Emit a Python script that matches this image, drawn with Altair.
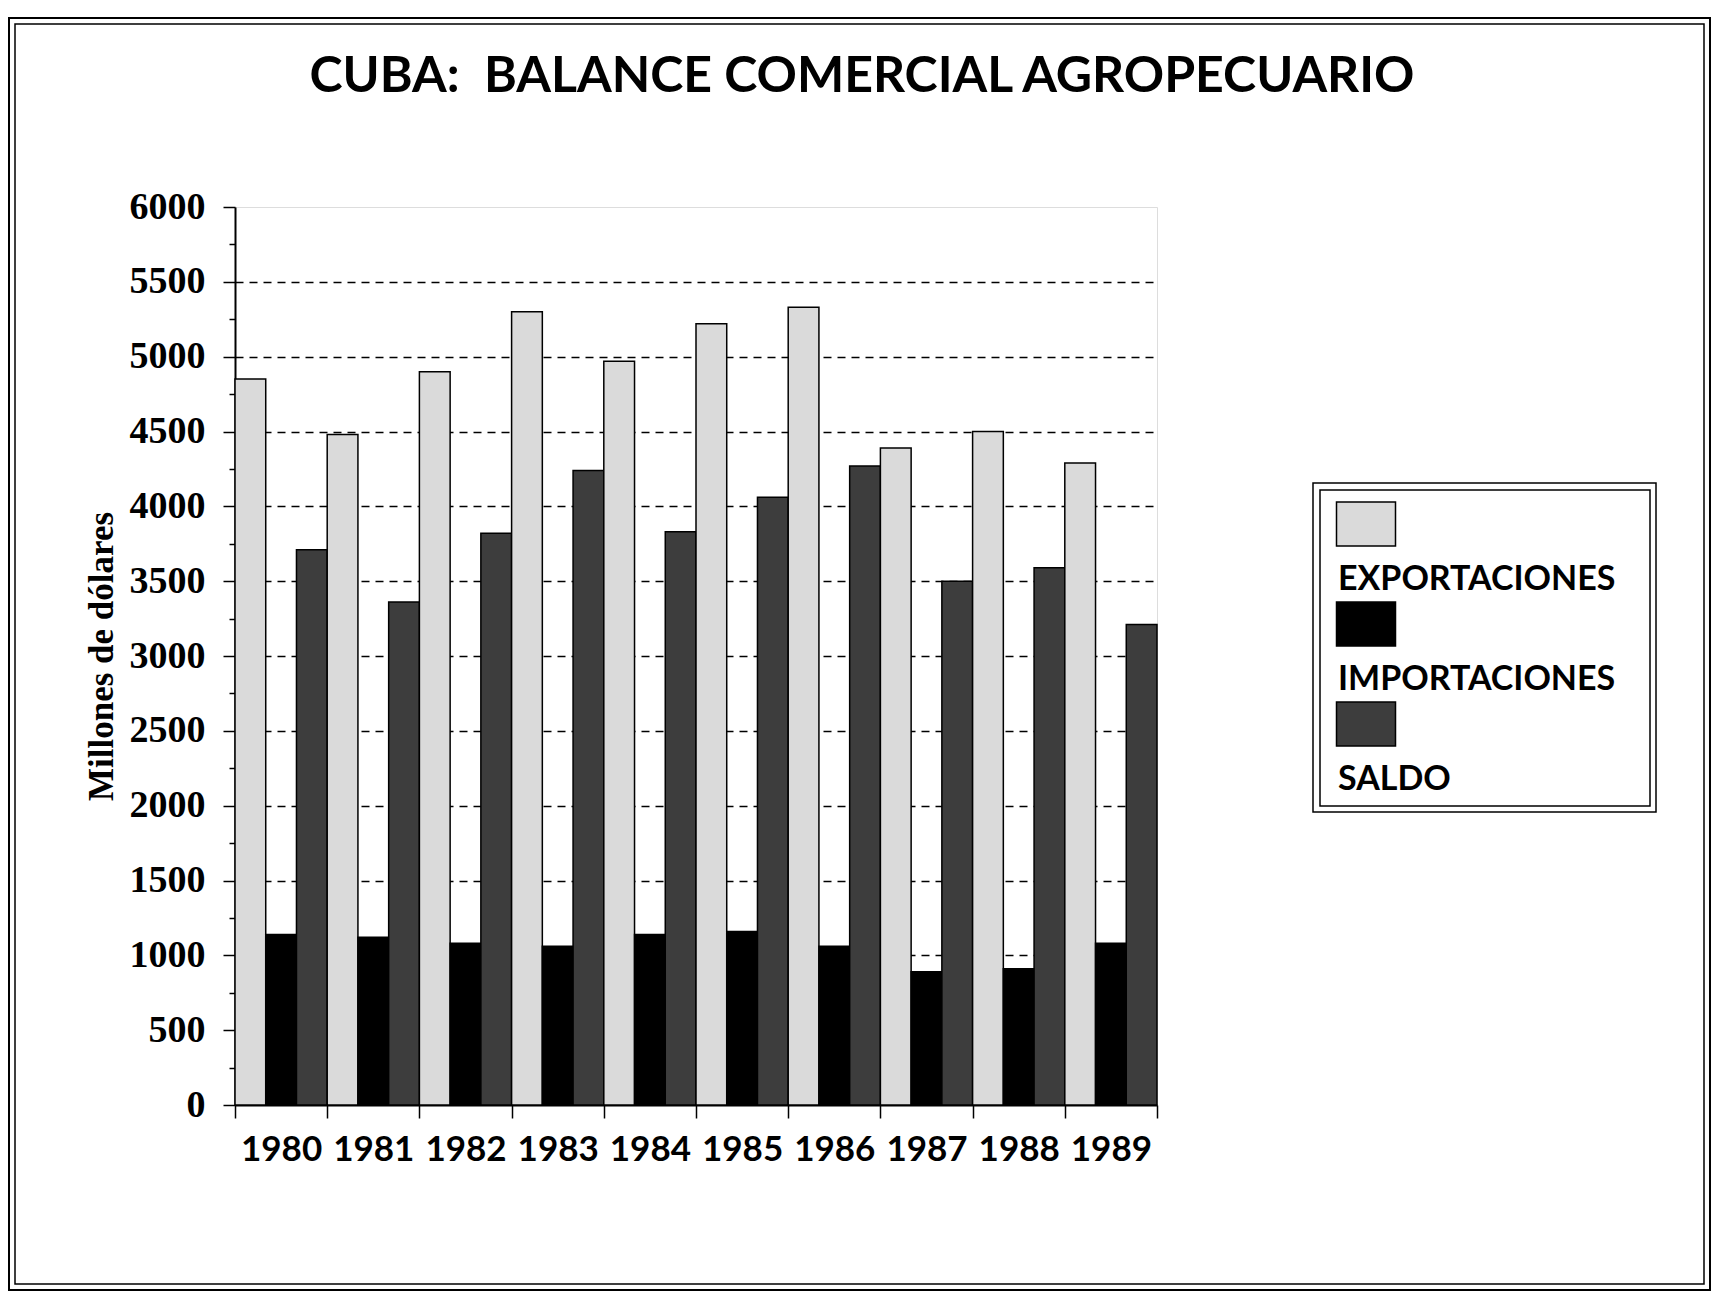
import altair as alt
import pandas as pd

years = ["1980", "1981", "1982", "1983", "1984", "1985", "1986", "1987", "1988", "1989"]
series = ["EXPORTACIONES", "IMPORTACIONES", "SALDO"]
exportaciones = [4850, 4480, 4900, 5300, 4970, 5220, 5330, 4390, 4500, 4290]
importaciones = [1140, 1120, 1080, 1060, 1140, 1160, 1060, 890, 910, 1080]
saldo = [3710, 3360, 3820, 4240, 3830, 4060, 4270, 3500, 3590, 3210]
colors = ["#dadada", "#000000", "#3d3d3d"]

rows = []
for i, y in enumerate(years):
    for s, vals in zip(series, [exportaciones, importaciones, saldo]):
        rows.append({"year": y, "series": s, "value": vals[i]})
df = pd.DataFrame(rows)

one = pd.DataFrame({"k": [0]})

def box(x, x2, y, y2, w=2):
    return alt.Chart(one).mark_rect(fillOpacity=0, stroke="black", strokeWidth=w).encode(
        x=alt.value(x), x2=alt.value(x2), y=alt.value(y), y2=alt.value(y2)
    )

frame_outer = box(-226, 1475, -189, 1083, 2)
frame_inner = box(-220, 1469, -183, 1077, 1.5)
legend_outer = box(1078, 1421, 276, 605, 1.5)
legend_inner = box(1085, 1415, 283, 599, 1.5)

bars = alt.Chart(df).mark_bar(stroke="black", strokeWidth=1.5).encode(
    x=alt.X("year:N", sort=years,
            scale=alt.Scale(paddingInner=0, paddingOuter=0),
            axis=alt.Axis(title=None, tickBand="extent", labelAngle=0,
                          labelFont="Lato", labelFontWeight="bold", labelFontSize=35,
                          labelColor="black", tickSize=13, tickWidth=1.5, tickColor="black",
                          labelPadding=14, domainColor="black", domainWidth=2)),
    xOffset=alt.XOffset("series:N", sort=series,
                        scale=alt.Scale(paddingInner=0, paddingOuter=0)),
    y=alt.Y("value:Q", scale=alt.Scale(domain=[0, 6000], nice=False),
            axis=alt.Axis(title="Millones de dólares",
                          values=list(range(0, 6001, 250)),
                          format="d",
                          labelExpr="datum.value % 500 == 0 ? datum.label : ''",
                          labelFont="Liberation Serif", labelFontWeight="bold",
                          labelFontSize=38, labelColor="black", labelPadding=18,
                          tickColor="black", tickWidth=1.5,
                          tickSize={"condition": {"test": "datum.value % 500 == 0", "value": 12}, "value": 6},
                          domainColor="black", domainWidth=2,
                          grid=True, gridColor="black", gridWidth=1.5, gridDash=[8, 6],
                          gridOpacity={"condition": {"test": "datum.value % 500 != 0 || datum.value == 0 || datum.value == 6000", "value": 0}, "value": 1},
                          titleFont="Liberation Serif", titleFontWeight="bold",
                          titleFontSize=35, titleColor="black", titlePadding=10)),
    fill=alt.Fill("series:N", sort=series,
                  scale=alt.Scale(domain=series, range=colors),
                  legend=alt.Legend(title=None, orient="none", legendX=1088, legendY=277,
                                    symbolType="M-1.0926,-0.922H1.0926V0.704H-1.0926Z", symbolSize=2916,
                                    symbolStrokeColor="black", symbolStrokeWidth=1.5,
                                    labelExpr="['', datum.label]", labelBaseline="top",
                                    labelOffset={"expr": "-56"}, labelFont="Lato", labelFontSize=34,
                                    labelFontWeight="bold", labelColor="black", labelLimit=500,
                                    padding=15)),
)

chart = alt.layer(frame_outer, frame_inner, legend_outer, legend_inner, bars).properties(
    width=922, height=898,
    padding={"left": 227, "top": 199, "right": 555, "bottom": 187},
    autosize=alt.AutoSizeParams(type="none"),
    title=alt.TitleParams("CUBA:\u00a0 BALANCE COMERCIAL AGROPECUARIO", font="Lato",
                          fontSize=50, fontWeight="bold", color="black",
                          anchor="middle", dx=166, offset={"expr": "-125"}, baseline="alphabetic"),
).configure_view(stroke="black", strokeWidth=2).configure(background="white")

chart.save("out.html", embed_options={"renderer": "svg", "actions": False})
